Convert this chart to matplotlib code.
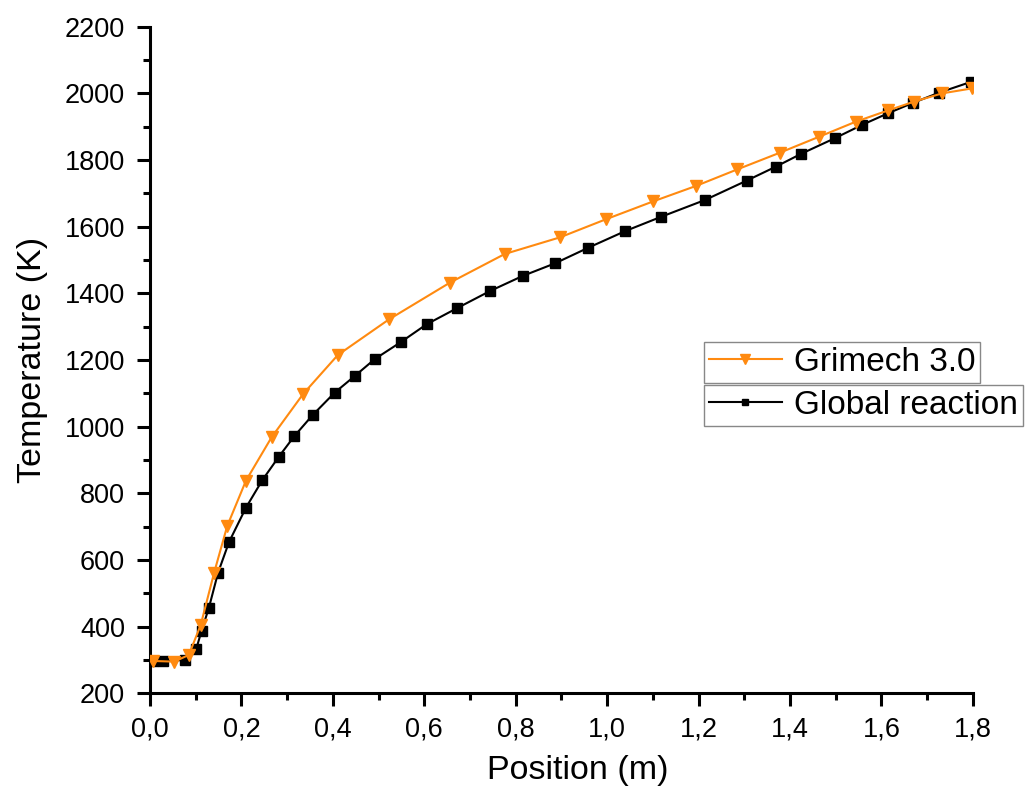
import numpy as np
import matplotlib
matplotlib.use('Agg')
import matplotlib.pyplot as plt
from matplotlib.ticker import MultipleLocator, FuncFormatter
from matplotlib.lines import Line2D

plt.rcParams['font.family'] = ['Liberation Sans', 'DejaVu Sans']

# Grimech 3.0 (orange, down triangles)
grimech_x = [0.006, 0.053, 0.085, 0.111, 0.140, 0.169, 0.210, 0.266, 0.335, 0.411,
             0.523, 0.656, 0.776, 0.897, 0.997, 1.101, 1.194, 1.285, 1.378, 1.464,
             1.544, 1.615, 1.671, 1.733, 1.799]
grimech_t = [297, 295, 315, 405, 560, 702, 838, 968, 1098, 1215,
             1322, 1432, 1518, 1568, 1622, 1676, 1722, 1772, 1822, 1870,
             1915, 1949, 1975, 2000, 2015]

# Global reaction (black squares)
global_x = [0.006, 0.029, 0.077, 0.101, 0.113, 0.129, 0.149, 0.173, 0.210, 0.246,
            0.282, 0.316, 0.356, 0.404, 0.448, 0.492, 0.548, 0.605, 0.671, 0.744,
            0.815, 0.886, 0.959, 1.040, 1.117, 1.214, 1.305, 1.369, 1.425, 1.499,
            1.557, 1.614, 1.670, 1.726, 1.795]
global_t = [297, 297, 300, 332, 388, 457, 562, 654, 757, 840,
            910, 972, 1035, 1102, 1152, 1203, 1253, 1307, 1355, 1407,
            1452, 1490, 1537, 1587, 1629, 1680, 1738, 1780, 1819, 1866,
            1905, 1940, 1972, 2002, 2034]

orange = '#FF8A10'

fig = plt.figure(figsize=(10.25, 7.89), dpi=100)
ax = fig.add_axes([0.1463, 0.1213, 0.8029, 0.8449])

ax.plot(global_x, global_t, color='black', lw=1.5, marker='s', ms=6.5, zorder=3)
ax.plot(grimech_x, grimech_t, color=orange, lw=1.5, marker='v', ms=8.5, zorder=4)

ax.set_xlim(0, 1.8)
ax.set_ylim(200, 2200)
ax.xaxis.set_major_locator(MultipleLocator(0.2))
ax.xaxis.set_minor_locator(MultipleLocator(0.1))
ax.yaxis.set_major_locator(MultipleLocator(200))
ax.yaxis.set_minor_locator(MultipleLocator(100))
ax.xaxis.set_major_formatter(FuncFormatter(lambda v, p: ('%.1f' % v).replace('.', ',')))

for s in ['top', 'right']:
    ax.spines[s].set_visible(False)
for s in ['left', 'bottom']:
    ax.spines[s].set_linewidth(2.2)

ax.tick_params(which='major', direction='out', length=9.5, width=2.2, labelsize=19.5)
ax.tick_params(which='minor', direction='out', length=5, width=2.2)
ax.tick_params(axis='x', which='major', pad=7.5)
ax.tick_params(axis='y', which='major', pad=8.5)

ax.set_xlabel('Position (m)', fontsize=24.5, labelpad=9)
ax.xaxis.label.set_x(0.52)
ax.set_ylabel('Temperature (K)', fontsize=24.5, labelpad=12)

h1 = Line2D([], [], color=orange, lw=1.5, marker='v', ms=7)
h2 = Line2D([], [], color='black', lw=1.5, marker='s', ms=5)
common = dict(loc='upper left', fontsize=24, handlelength=2.2, handletextpad=0.35,
              borderpad=0.15, borderaxespad=0, fancybox=False, framealpha=1,
              edgecolor='#888888', frameon=True)
leg1 = ax.legend([h1], ['Grimech 3.0'], bbox_to_anchor=(0.673, 0.5275), **common)
leg1.get_frame().set_linewidth(1.0)
ax.add_artist(leg1)
leg2 = ax.legend([h2], ['Global reaction'], bbox_to_anchor=(0.673, 0.4625), **common)
leg2.get_frame().set_linewidth(1.0)

fig.savefig('out.png', dpi=100)
